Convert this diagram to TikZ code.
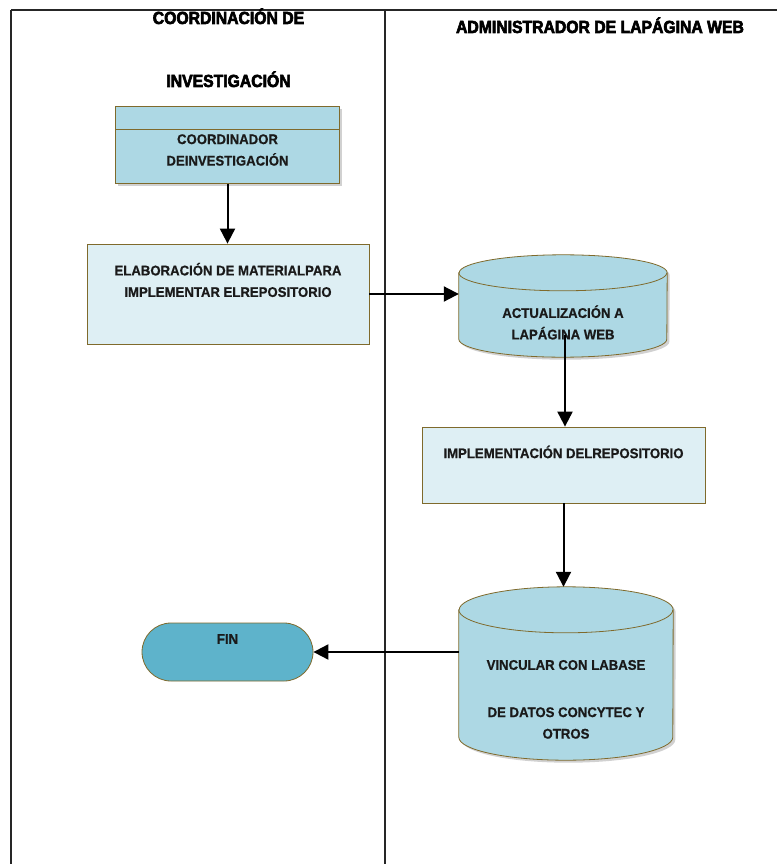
\documentclass[tikz,border=0pt]{standalone}
\usepackage{fontspec}
\setmainfont{Liberation Sans}
\newfontfamily\hdrfont{Liberation Sans}[FakeStretch=0.9, BoldFeatures={FakeBold=3.5}]
\newfontfamily\boxfont{Liberation Sans}[FakeStretch=0.94, BoldFeatures={FakeBold=0.8}]
\usetikzlibrary{arrows.meta,calc}

\definecolor{edgebrown}{HTML}{7F6A2C}
\definecolor{boxblue}{HTML}{ADD8E4}
\definecolor{paleblue}{HTML}{DEEFF4}
\definecolor{finblue}{HTML}{5EB3CB}
\definecolor{textdark}{HTML}{1A1A1A}

\tikzset{
  lane/.style={line width=1.4pt, draw=black!85},
  hdr/.style={font=\hdrfont\bfseries\fontsize{17.5}{19}\selectfont, text=black, inner sep=0pt, anchor=base},
  lbl/.style={font=\boxfont\bfseries\fontsize{14}{21.5}\selectfont, text=textdark, align=center, inner sep=0pt},
  procbox/.style={draw=edgebrown, line width=0.8pt, rectangle, inner sep=0pt},
  shapeframe/.style={rectangle, inner sep=0pt, draw=none},
  cylfill/.style={fill=boxblue, draw=edgebrown, line width=0.8pt},
  shadowfill/.style={fill=black, opacity=0.18, draw=none},
  flow/.style={line width=2pt, draw=black, -{Triangle[length=15pt,width=15pt]}},
}

% cylinder drawn on a named frame node: #1 node name, #2 half-width, #3 ellipse half-height
\newcommand\drawdrum[3]{%
  \fill[shadowfill] ($(#1.north west)+(2.5,#3+2.5)$) -- ($(#1.south west)+(2.5,-#3+2.5)$)
    arc[start angle=180,end angle=360,x radius=#2pt,y radius=#3pt]
    -- ($(#1.north east)+(2.5,#3+2.5)$)
    arc[start angle=0,end angle=180,x radius=#2pt,y radius=#3pt] -- cycle;
  \path[cylfill] ($(#1.north west)+(0,#3)$) -- ($(#1.south west)+(0,-#3)$)
    arc[start angle=180,end angle=360,x radius=#2pt,y radius=#3pt]
    -- ($(#1.north east)+(0,#3)$)
    arc[start angle=0,end angle=180,x radius=#2pt,y radius=#3pt] -- cycle;
  \draw[edgebrown, line width=0.8pt] ($(#1.north west)+(0,#3)$)
    arc[start angle=180,end angle=360,x radius=#2pt,y radius=#3pt];
}

\begin{document}
\begin{tikzpicture}[x=1pt,y=-1pt]
\useasboundingbox (0,0) rectangle (777,864);
\fill[white] (0,0) rectangle (777,864);

% swimlane frame
\draw[lane] (11,10) -- (777,10);
\draw[lane] (11,10) -- (11,864);
\draw[lane] (385,10) -- (385,864);

% lane headings
\node[hdr] (h1a) at (228.5,24) {COORDINACIÓN DE};
\node[hdr] (h1b) at (228.5,87) {INVESTIGACIÓN};
\node[hdr] (h2) at (600,33) {ADMINISTRADOR DE LAPÁGINA WEB};

% coordinator (role box with a title band)
\fill[shadowfill] (117.5,109) rectangle (341.5,186);
\node[procbox, fill=boxblue, minimum width=224pt, minimum height=77pt] (coord) at (227.5,145) {};
\draw[edgebrown, line width=0.8pt] (coord.west |- 0,129) -- (coord.east |- 0,129);
\node[lbl] (coordT) at (227.5,150) {COORDINADOR\\DEINVESTIGACIÓN};

% material preparation
\node[procbox, fill=paleblue, minimum width=282pt, minimum height=100pt] (elab) at (228,294) {};
\node[lbl] (elabT) at (228,280) {ELABORACIÓN DE MATERIALPARA\\IMPLEMENTAR ELREPOSITORIO};

% web page update (drum)
\node[shapeframe, minimum width=208pt, minimum height=102pt] (act) at (563,306) {};
\drawdrum{act}{104}{18}
\node[lbl] (actT) at (563,322.5) {ACTUALIZACIÓN A\\LAPÁGINA WEB};

% repository implementation
\node[procbox, fill=paleblue, minimum width=283pt, minimum height=76pt] (impl) at (563.5,465) {};
\node[lbl] (implT) at (563.5,452) {IMPLEMENTACIÓN DELREPOSITORIO};

% database link (drum)
\node[shapeframe, minimum width=214pt, minimum height=173pt] (vinc) at (566,673.5) {};
\drawdrum{vinc}{107}{23}
\node[lbl] (vincA) at (566,665) {VINCULAR CON LABASE};
\node[lbl] (vincB) at (566,723) {DE DATOS CONCYTEC Y\\OTROS};

% terminator
\node[procbox, fill=finblue, rounded corners=29pt, minimum width=171pt, minimum height=58pt] (fin) at (227.5,652) {};
\node[lbl] (finT) at (227.5,639) {FIN};

% flow
\coordinate (actout) at (565,335);
\draw[flow] (coord.south) -- (coord.south |- elab.north);
\draw[flow] (elab.east) -- (elab.east -| act.west);
\draw[flow] (actout) -- (actout |- impl.north);
\draw[flow] (impl.south) -- (impl.south |- vinc.north);
\draw[flow] (fin.east -| vinc.west) -- (fin.east);
\end{tikzpicture}
\end{document}
